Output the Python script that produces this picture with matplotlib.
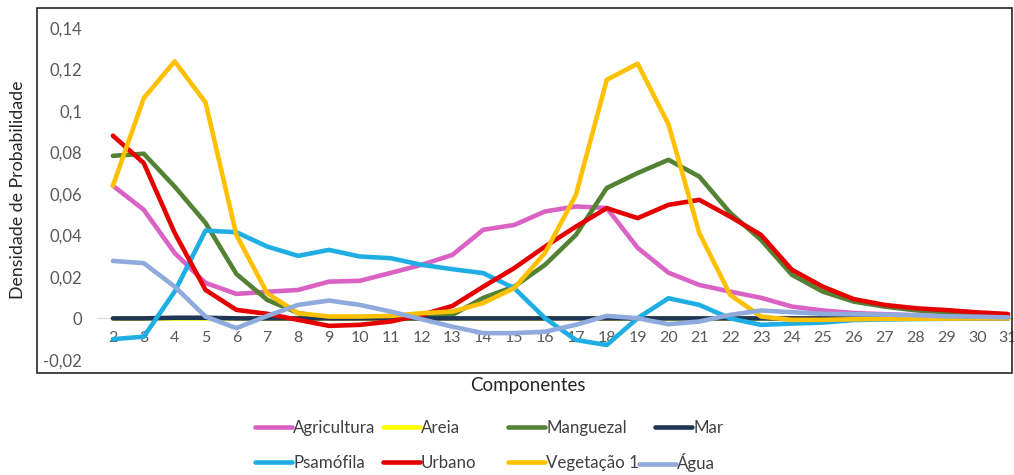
import matplotlib
matplotlib.use("Agg")
import matplotlib.pyplot as plt
from matplotlib.patches import Rectangle
from matplotlib.lines import Line2D

plt.rcParams['font.family'] = ['Lato', 'DejaVu Sans']

componentes = list(range(2, 32))

agricultura = [0.0639, 0.0523, 0.0315, 0.0171, 0.0118, 0.0128, 0.0137, 0.0177, 0.0181, 0.0219,
               0.0258, 0.0306, 0.0427, 0.0450, 0.0515, 0.0539, 0.0532, 0.0340, 0.0220, 0.0161,
               0.0129, 0.0099, 0.0057, 0.0038, 0.0026, 0.0020, 0.0015, 0.0010, 0.0008, 0.0005]
areia = [0.0] * 30
manguezal = [0.0783, 0.0793, 0.0635, 0.0460, 0.0214, 0.0089, 0.0026, 0.0002, 0.0002, 0.0005,
             0.0010, 0.0017, 0.0099, 0.0153, 0.0258, 0.0402, 0.0628, 0.0700, 0.0764, 0.0683,
             0.0508, 0.0378, 0.0210, 0.0129, 0.0081, 0.0057, 0.0039, 0.0030, 0.0022, 0.0014]
mar = [0.0, 0.0, 0.0003, 0.0003, 0.0, 0.0, 0.0, 0.0, 0.0, 0.0,
       0.0, 0.0, 0.0, 0.0, 0.0, 0.0, 0.0, 0.0, 0.0, 0.0,
       0.0, 0.0, 0.0, 0.0, 0.0, 0.0, 0.0, 0.0, 0.0, 0.0]
psamofila = [-0.0100, -0.0088, 0.0129, 0.0423, 0.0415, 0.0346, 0.0301, 0.0330, 0.0298, 0.0290,
             0.0258, 0.0237, 0.0218, 0.0146, 0.0001, -0.0104, -0.0128, 0.0001, 0.0097, 0.0065,
             0.0000, -0.0031, -0.0025, -0.0020, -0.0008, -0.0005, -0.0003, -0.0002, 0.0, 0.0]
urbano = [0.0880, 0.0748, 0.0412, 0.0137, 0.0041, 0.0022, -0.0007, -0.0036, -0.0031, -0.0015,
          0.0017, 0.0060, 0.0153, 0.0242, 0.0346, 0.0442, 0.0531, 0.0483, 0.0547, 0.0571,
          0.0490, 0.0402, 0.0234, 0.0153, 0.0093, 0.0065, 0.0049, 0.0040, 0.0029, 0.0021]
vegetacao1 = [0.0639, 0.1061, 0.1238, 0.1040, 0.0402, 0.0121, 0.0025, 0.0009, 0.0009, 0.0012,
              0.0025, 0.0033, 0.0074, 0.0146, 0.0315, 0.0595, 0.1149, 0.1227, 0.0935, 0.0410,
              0.0113, 0.0009, -0.0007, -0.0007, -0.0004, -0.0002, -0.0002, -0.0001, 0.0, 0.0]
agua = [0.0277, 0.0266, 0.0153, 0.0009, -0.0047, 0.0012, 0.0065, 0.0086, 0.0065, 0.0033,
        -0.0004, -0.0040, -0.0071, -0.0071, -0.0064, -0.0031, 0.0012, 0.0001, -0.0028, -0.0015,
        0.0017, 0.0038, 0.0030, 0.0022, 0.0020, 0.0018, 0.0015, 0.0010, 0.0008, 0.0005]

series_names = ["Agricultura", "Areia", "Manguezal", "Mar", "Psamófila", "Urbano", "Vegetação 1", "Água"]
series_values = [agricultura, areia, manguezal, mar, psamofila, urbano, vegetacao1, agua]
series_colors = ["#D962C4", "#FFFF00", "#548235", "#1F3556", "#1EAEE3", "#E50000", "#FFC000", "#8FAADC"]

y_ticks = [-0.02, 0, 0.02, 0.04, 0.06, 0.08, 0.1, 0.12, 0.14]
y_tick_labels = ["-0,02", "0", "0,02", "0,04", "0,06", "0,08", "0,1", "0,12", "0,14"]

W, H = 1014, 475
fig = plt.figure(figsize=(W / 100, H / 100), dpi=100)
ax = fig.add_axes([37 / W, 1 - 373 / H, 975 / W, 365 / H])

handles = []
for name, vals, col in zip(series_names, series_values, series_colors):
    ln, = ax.plot(componentes, vals, color=col, lw=3.3, solid_joinstyle='round',
                  solid_capstyle='round', label=name, zorder=3)
    handles.append(ln)

ax.set_xlim(-0.46, 31.13)
ax.set_ylim(-0.0263, 0.1495)

ax.set_yticks(y_ticks)
ax.set_yticklabels(y_tick_labels)
ax.set_xticks(componentes)
ax.set_xticklabels([str(c) for c in componentes])

for s in ['left', 'top', 'right']:
    ax.spines[s].set_visible(False)
ax.spines['bottom'].set_position(('data', 0))
ax.spines['bottom'].set_bounds(1.5, 31.5)
ax.spines['bottom'].set_color('#d9d9d9')

ax.tick_params(axis='y', length=0, pad=-32.5, labelsize=12, labelcolor='#595959')
ax.tick_params(axis='x', length=0, pad=9, labelsize=11.5, labelcolor='#595959')

ax.add_patch(Rectangle((0, 0), 1, 1, transform=ax.transAxes, fill=False,
                       edgecolor='#262626', lw=1.2, clip_on=False, zorder=10))

fig.text(528 / W, 1 - 386 / H, "Componentes", ha='center', va='center', fontsize=13.5, color='#262626')
fig.text(18 / W, 1 - 190 / H, "Densidade de Probabilidade", ha='center', va='center',
         rotation=90, fontsize=12.8, color='#262626')

# legend entries placed individually (Excel-like layout)
leg_pos = [(255, 428), (383, 428), (508, 428), (655, 428),
           (255, 463), (383, 463), (508, 463), (639, 463)]
for h, (px, py) in zip(handles, leg_pos):
    proxy = Line2D([], [], color=h.get_color(), lw=3.3, solid_capstyle='round')
    fig.legend([proxy], [h.get_label()], loc='center left',
               bbox_to_anchor=(px / W, 1 - py / H), frameon=False,
               borderpad=0, borderaxespad=0, handlelength=2.2, handletextpad=0.05,
               fontsize=12.2, labelcolor='#404040')

fig.savefig("out.png", dpi=100)
